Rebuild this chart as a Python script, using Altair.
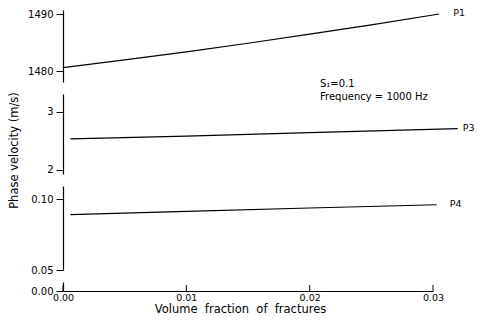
import altair as alt
import pandas as pd

# ---- data ----
p1_x = [0.0, 0.005, 0.010, 0.015, 0.020, 0.025, 0.0305]
p1_v = [1480.65, 1482.0, 1483.4, 1484.9, 1486.5, 1488.1, 1490.0]
p3_x = [0.0006, 0.010, 0.020, 0.032]
p3_v = [2.53, 2.58, 2.64, 2.71]
p4_x = [0.0006, 0.010, 0.020, 0.0303]
p4_v = [0.0892, 0.0915, 0.0939, 0.0962]
series_names = ["P1", "P3", "P4"]

x_ticks = [0.0, 0.01, 0.02, 0.03]
p1_ticks = [1480, 1490]
p3_ticks = [2, 3]
p4_ticks = [0.05, 0.10]
zero_tick = [0.0]
annotation = ["S\u2081=0.1", "Frequency = 1000 Hz"]
x_title = "Volume\u00a0 fraction\u00a0 of\u00a0 fractures"
y_title = "Phase velocity (m/s)"

FONT = "DejaVu Sans"
W = 370

xscale = alt.Scale(domain=[0, 0.03], nice=False, zero=False)
x_none = alt.X("x:Q", scale=xscale, axis=None)


def yaxis(values, fmt, **kw):
    return alt.Axis(orient="left", values=values, format=fmt, tickSize=7,
                    labelPadding=3, domainColor="black", tickColor="black",
                    labelColor="black", labelFont=FONT, labelFontSize=10,
                    grid=False, domainWidth=1.2, tickWidth=1, **kw)


def panel(xs, vs, name, dom, height, ticks, fmt, dx, extra=None, **axkw):
    df = pd.DataFrame({"x": xs, "v": vs})
    last = df.tail(1).assign(name=name)
    yenc = alt.Y("v:Q", scale=alt.Scale(domain=dom, nice=False, zero=False),
                 axis=yaxis(ticks, fmt, **axkw))
    line = alt.Chart(df).mark_line(color="black", strokeWidth=1.2).encode(x=x_none, y=yenc)
    lab = alt.Chart(last).mark_text(align="left", baseline="middle", dx=dx, dy=-1,
                                    font=FONT, fontSize=9.5, color="black").encode(
        x=x_none, y=yenc, text="name:N")
    layers = [line, lab] + ([extra] if extra is not None else [])
    return alt.layer(*layers).properties(width=W, height=height)


ann = alt.Chart(pd.DataFrame({"a": [0]})).mark_text(
    text=annotation, align="left", baseline="middle", lineHeight=13,
    font=FONT, fontSize=10, color="black").encode(
    x=alt.value(257), y=alt.value(74))

c1 = panel(p1_x, p1_v, series_names[0], [1478.15, 1490.70], 72, p1_ticks, "d", 14,
           extra=ann, title=None)
c3 = panel(p3_x, p3_v, series_names[1], [1.924, 3.308], 80, p3_ticks, "d", 5,
           title=y_title, titleFont=FONT, titleFontSize=11.5,
           titleFontWeight="normal", titleColor="black", titleAngle=270,
           titleX=-49, titleY=56, titleAlign="center", titleBaseline="middle")
c4 = panel(p4_x, p4_v, series_names[2], [0.05, 0.10949], 84, p4_ticks, ".2f", 13,
           title=None)

# bottom strip: "0.00" tick and the shared x axis with upward ticks
ZH = 9
x_axis = alt.X("x:Q", scale=xscale,
               axis=alt.Axis(orient="bottom", values=x_ticks, format=".2f", ticks=False,
                             labelFlush=False, labelPadding=1, domainColor="black",
                             domainWidth=1.2, labelColor="black", labelFont=FONT,
                             labelFontSize=9.5, grid=False, title=x_title,
                             titleFont=FONT, titleFontSize=11.5, titleFontWeight="normal",
                             titleColor="black", titlePadding=2, titleX=177))
tick_df = pd.DataFrame({"x": x_ticks, "v": [0.0] * len(x_ticks)})
zero_y = alt.Y("v:Q", scale=alt.Scale(domain=[0, 1], nice=False, zero=False),
               axis=yaxis(zero_tick, ".2f", title=None))
xt = alt.Chart(tick_df).mark_rule(color="black", strokeWidth=1).encode(
    x=x_axis, y=zero_y, y2=alt.value(ZH - 6))
c0 = alt.layer(xt).properties(width=W, height=ZH)

chart = alt.vconcat(c1, c3, c4, c0, spacing=12, bounds="flush").properties(
    padding={"left": 0, "top": 0, "right": 0, "bottom": 0},
).configure_view(stroke=None)

chart.save("out.html", embed_options={"renderer": "svg", "actions": False})
